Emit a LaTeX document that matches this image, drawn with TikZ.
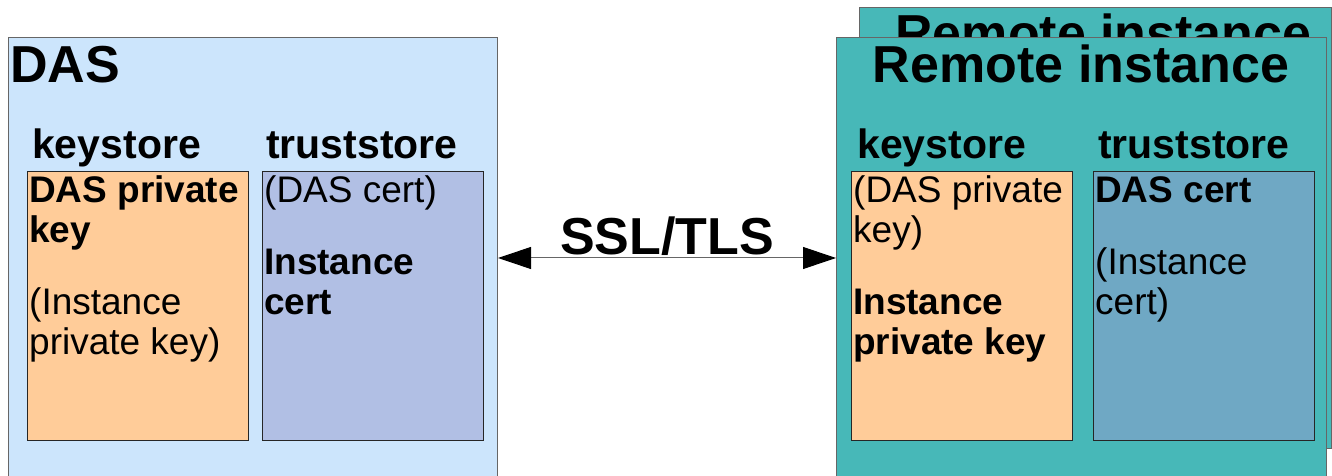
\documentclass[tikz,border=0pt]{standalone}
\usepackage{fontspec}
\setmainfont{Liberation Sans}
\usetikzlibrary{positioning,arrows.meta}
\definecolor{dasblue}{HTML}{CCE5FC}
\definecolor{remoteteal}{HTML}{47B8B8}
\definecolor{keypeach}{HTML}{FFCC99}
\definecolor{trustlav}{HTML}{B1BFE4}
\definecolor{truststeel}{HTML}{6FA8C4}
\tikzset{
  hostbox/.style={
      draw=black!60,
      line width=1pt,
      anchor=north west,
      inner sep=0pt
    },
  storebox/.style={
      draw=black!85,
      line width=1pt,
      minimum width=221pt,
      minimum height=269pt,
      anchor=north west,
      inner sep=0pt
    },
  hosttitle/.style={font=\fontsize{52}{60}\selectfont\bfseries, inner sep=0pt},
  storetitle/.style={font=\fontsize{41}{48}\selectfont\bfseries, inner sep=0pt, anchor=base west},
  storetext/.style={font=\fontsize{37}{40}\selectfont, inner sep=0pt, anchor=base west, align=left}
}

\begin{document}
\begin{tikzpicture}[x=1pt,y=1pt]
\clip (0,0) rectangle (1332,476);
% the hosts
\node[hostbox,fill=dasblue,minimum width=489pt,minimum height=449pt]
  at (8,439) (das) {};
\node[hostbox,fill=remoteteal,minimum width=472pt,minimum height=441pt]
  at (859,469) (remote-2) {};
\node[hosttitle,anchor=base] at (1103.5,424) (remote-2-title) {Remote instance};
\node[hostbox,fill=remoteteal,minimum width=490pt,minimum height=449pt]
  at (836,439) (remote) {};
\node[hosttitle,anchor=base west] at (10,393) (das-title) {DAS};
\node[hosttitle,anchor=base] at (1081,393) (remote-title) {Remote instance};

% the stores
\node[storebox,fill=keypeach] at (27,305) (das-ks) {};
\node[storebox,fill=trustlav] at (262,305) (das-ts) {};
\node[storebox,fill=keypeach] at (851,305) (remote-ks) {};
\node[storebox,fill=truststeel] at (1093,305) (remote-ts) {};

\node[storetitle] at ([xshift=5pt,yshift=12pt]das-ks.north west) (das-ks-title) {keystore};
\node[storetitle] at ([xshift=4pt,yshift=12pt]das-ts.north west) (das-ts-title) {truststore};
\node[storetitle] at ([xshift=6pt,yshift=12pt]remote-ks.north west) (remote-ks-title) {keystore};
\node[storetitle] at ([xshift=5pt,yshift=12pt]remote-ts.north west) (remote-ts-title) {truststore};

% base sits on the last line
\node[storetext] at ([xshift=2pt,yshift=-184pt]das-ks.north west) (das-ks-text)
  {\textbf{DAS private}\\\textbf{key}\\[32pt](Instance\\private key)};
\node[storetext] at ([xshift=2pt,yshift=-144pt]das-ts.north west) (das-ts-text)
  {(DAS cert)\\[32pt]\textbf{Instance}\\\textbf{cert}};
\node[storetext] at ([xshift=2pt,yshift=-184pt]remote-ks.north west) (remote-ks-text)
  {(DAS private\\key)\\[32pt]\textbf{Instance}\\\textbf{private key}};
\node[storetext] at ([xshift=2pt,yshift=-144pt]remote-ts.north west) (remote-ts-text)
  {\textbf{DAS cert}\\[32pt](Instance\\cert)};

%the link
\coordinate (link) at (0,218);
\draw[{Triangle[length=33pt,width=22pt,color=black]}-{Triangle[length=33pt,width=22pt,color=black]},
      draw=black!60, line width=1pt]
  (das.east |- link) --
    node[midway,anchor=base,yshift=3pt,inner sep=0pt,font=\fontsize{52}{60}\selectfont\bfseries] (ssl) {SSL/TLS}
  (remote.west |- link);
\end{tikzpicture}
\end{document}
